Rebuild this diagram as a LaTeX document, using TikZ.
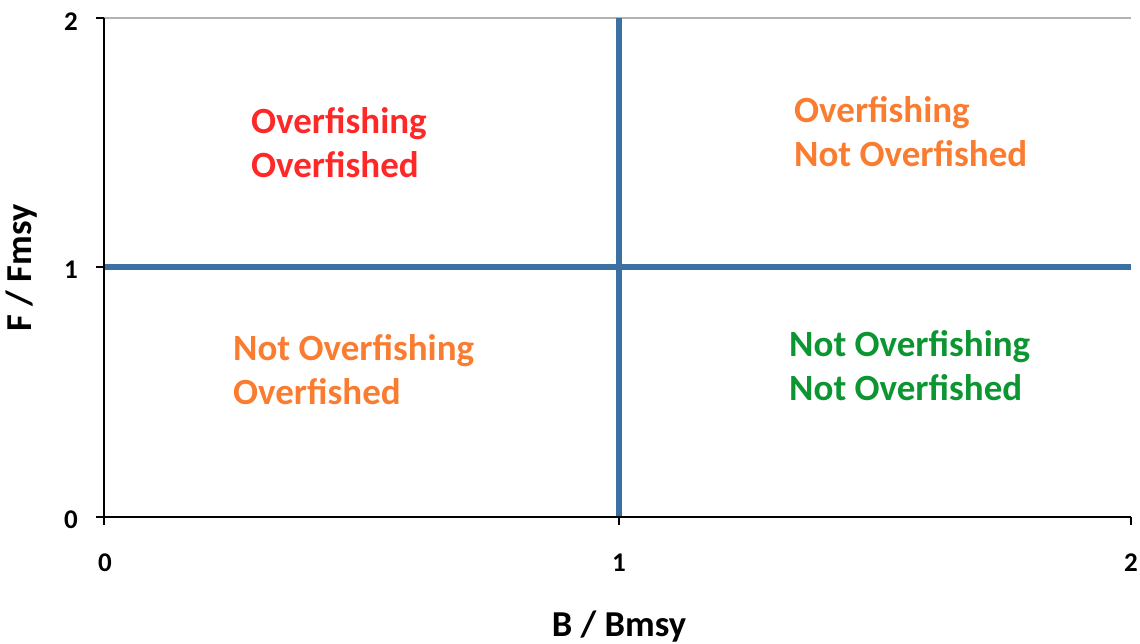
\documentclass[tikz,border=0pt]{standalone}
\usepackage{fontspec}
\setmainfont{Carlito}
\definecolor{qblue}{RGB}{58,112,162}
\definecolor{qred}{RGB}{255,40,40}
\definecolor{qorange}{RGB}{250,124,48}
\definecolor{qgreen}{RGB}{12,150,50}
\definecolor{qgray}{RGB}{178,178,178}
\begin{document}
\begin{tikzpicture}[x=1pt,y=-1pt,
  axisline/.style={line width=2pt,black},
  quadline/.style={line width=5.5pt,qblue},
  ticklab/.style={font=\bfseries\fontsize{27}{30}\selectfont},
  axistitle/.style={font=\bfseries\fontsize{36.5}{40}\selectfont},
  quadtext/.style={font=\bfseries\fontsize{37}{44}\selectfont,align=left,anchor=west,inner sep=0pt}]
\useasboundingbox (0,0) rectangle (1140,644);
% coordinates
\coordinate (o) at (104,517);
\coordinate (yt) at (104,18);
\coordinate (xr) at (1131,517);
\coordinate (tr) at (1131,18);
\coordinate (vt) at (619,18);
\coordinate (vb) at (619,517);
\coordinate (hl) at (104,267);
\coordinate (hr) at (1131,267);
% grid line
\draw[qgray,line width=2pt] (yt) -- (tr);
% quadrant lines
\draw[quadline] (vt) -- (vb);
\draw[quadline] (hl) -- (hr);
% axes
\draw[axisline] (yt) -- (o) -- (xr);
\foreach \y in {18,267,517} \draw[axisline] (96,\y) -- (104,\y);
\foreach \x in {104,619,1131} \draw[axisline] (\x,517) -- (\x,525);
% tick labels
\node[ticklab] (y2) at (71,22) {2};
\node[ticklab] (y1) at (71,270) {1};
\node[ticklab] (y0) at (71,520) {0};
\node[ticklab] (x0) at (105,563) {0};
\node[ticklab] (x1) at (619,563) {1};
\node[ticklab] (x2) at (1131,563) {2};
% axis titles
\node[axistitle,rotate=90] (ytitle) at (22,268) {F / Fmsy};
\node[axistitle] (xtitle) at (619,627) {B / Bmsy};
% quadrant texts
\node[quadtext,text=qred] (q1) at (251,143) {Overfishing\\Overfished};
\node[quadtext,text=qorange] (q2) at (794,132) {Overfishing\\Not Overfished};
\node[quadtext,text=qorange] (q3) at (233,370) {Not Overfishing\\Overfished};
\node[quadtext,text=qgreen] (q4) at (789,366) {Not Overfishing\\Not Overfished};
\end{tikzpicture}
\end{document}
